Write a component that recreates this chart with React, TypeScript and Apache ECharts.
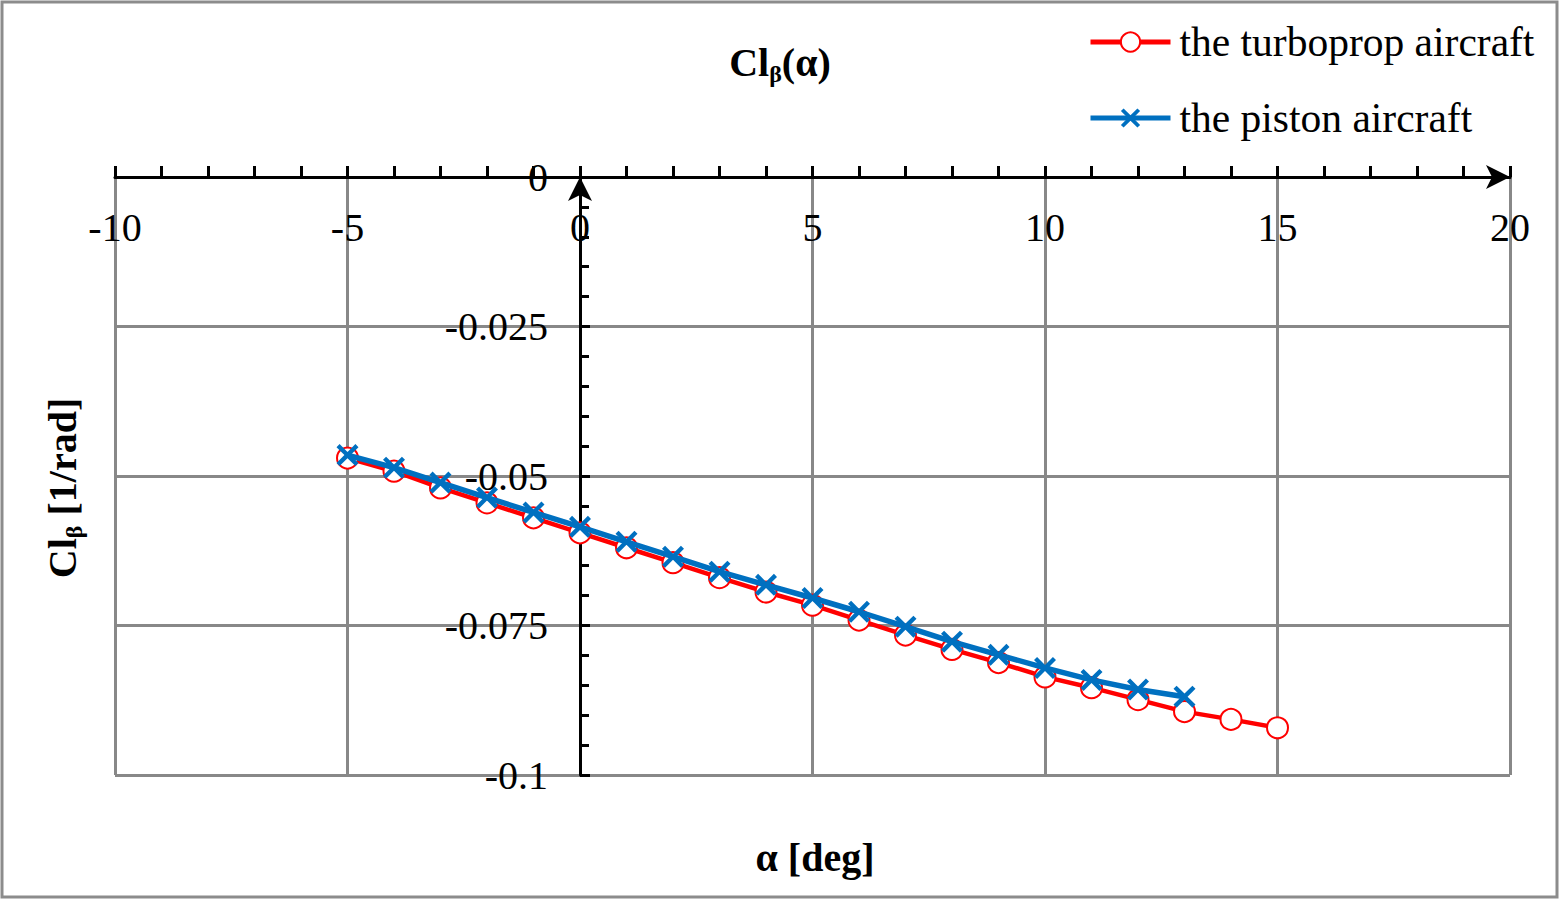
import React, { useEffect, useRef } from "react";
import * as echarts from "echarts";

const alphaTurboprop = [-5, -4, -3, -2, -1, 0, 1, 2, 3, 4, 5, 6, 7, 8, 9, 10, 11, 12, 13, 14, 15];
const clbTurboprop = [
  -0.047, -0.0492, -0.052, -0.0545, -0.057, -0.0595, -0.062, -0.0645, -0.067, -0.0694, -0.0716,
  -0.0741, -0.0766, -0.079, -0.0812, -0.0836, -0.0854, -0.0874, -0.0894, -0.0907, -0.0921,
];
const alphaPiston = [-5, -4, -3, -2, -1, 0, 1, 2, 3, 4, 5, 6, 7, 8, 9, 10, 11, 12, 13];
const clbPiston = [
  -0.0465, -0.0486, -0.0511, -0.0536, -0.0561, -0.0585, -0.061, -0.0635, -0.066, -0.0682, -0.0704,
  -0.0727, -0.0752, -0.0777, -0.0799, -0.0821, -0.0841, -0.0857, -0.0869,
];
const seriesNames = ["the turboprop aircraft", "the piston aircraft"];
const titleText = "{a|Cl}{b|β}{a|(α)}";
const yNameText = "{a|Cl}{b|β}{a| [1/rad]}";
const xNameText = "α [deg]";

const FONT = "'Liberation Serif', 'Times New Roman', serif";
const X_MARK = "path://M1.4,0 L5,3.6 L8.6,0 L10,1.4 L6.4,5 L10,8.6 L8.6,10 L5,6.4 L1.4,10 L0,8.6 L3.6,5 L0,1.4 Z";

const richStyle = {
  a: { fontSize: 40, fontWeight: "bold", fontFamily: FONT, lineHeight: 48, verticalAlign: "middle", fill: "#000" },
  b: { fontSize: 24, fontWeight: "bold", fontFamily: FONT, lineHeight: 24, verticalAlign: "bottom", fill: "#000" },
};

export default function App() {
  const ref = useRef<HTMLDivElement>(null);
  useEffect(() => {
    document.body.style.margin = "0";
    if (!ref.current) return;
    const chart = echarts.init(ref.current, null, { renderer: "svg" });
    const red = "#FF0000";
    const blue = "#0070C0";
    const gridLeft = 115;
    const gridRight = 50;
    const gridWidth = 1560 - gridLeft - gridRight;
    const xMin = -10;
    const xMax = 20;
    // y axis sits at alpha = 0
    const yAxisOffset = -(gridWidth * (0 - xMin)) / (xMax - xMin);
    chart.setOption({
      animation: false,
      backgroundColor: "#ffffff",
      grid: { left: gridLeft, right: gridRight, top: 177, bottom: 125, containLabel: false, outerBoundsMode: "none" },
      legend: {
        orient: "vertical",
        left: 1083,
        top: 15,
        itemWidth: 80,
        itemHeight: 24,
        itemGap: 32,
        data: seriesNames,
        lineStyle: { width: 5 },
        textStyle: { fontFamily: FONT, fontSize: 41.5, color: "#000", lineHeight: 44, padding: [0, 0, 0, 4] },
      },
      xAxis: {
        type: "value",
        position: "top",
        min: xMin,
        max: xMax,
        interval: 5,
        axisLine: {
          onZero: false,
          lineStyle: { color: "#000", width: 3 },
          symbol: ["none", "arrow"],
          symbolSize: [18, 24],
          symbolOffset: [0, 0],
        },
        axisTick: { show: true, inside: false, length: 11, lineStyle: { color: "#000", width: 3 } },
        minorTick: { show: true, splitNumber: 5, length: 11, lineStyle: { color: "#000", width: 3 } },
        axisLabel: { inside: true, fontFamily: FONT, fontSize: 40, color: "#000", margin: 30 },
        splitLine: { show: true, lineStyle: { color: "#888888", width: 3 } },
      },
      yAxis: {
        type: "value",
        position: "left",
        offset: yAxisOffset,
        min: -0.1,
        max: 0,
        interval: 0.025,
        axisLine: {
          onZero: false,
          lineStyle: { color: "#000", width: 3 },
          symbol: ["none", "arrow"],
          symbolSize: [18, 24],
          symbolOffset: [0, 0],
        },
        axisTick: { show: true, inside: true, length: 10, lineStyle: { color: "#000", width: 3 } },
        minorTick: { show: true, splitNumber: 5, length: 9, lineStyle: { color: "#000", width: 3 } },
        axisLabel: { fontFamily: FONT, fontSize: 40, color: "#000", margin: 32 },
        splitLine: { show: true, lineStyle: { color: "#888888", width: 3 } },
      },
      series: [
        {
          name: seriesNames[0],
          type: "line",
          data: alphaTurboprop.map((a, i) => [a, clbTurboprop[i]]),
          symbol: "emptyCircle",
          symbolSize: 21,
          lineStyle: { color: red, width: 4.5 },
          itemStyle: { color: red, borderColor: red, borderWidth: 3 },
          z: 3,
        },
        {
          name: seriesNames[1],
          type: "line",
          data: alphaPiston.map((a, i) => [a, clbPiston[i]]),
          symbol: X_MARK,
          symbolSize: 22,
          lineStyle: { color: blue, width: 5.5 },
          itemStyle: { color: blue },
          z: 4,
        },
      ],
      graphic: [
        {
          type: "rect",
          shape: { x: 2, y: 2, width: 1555, height: 895 },
          style: { fill: "none", stroke: "#8c8c8c", lineWidth: 3 },
          silent: true,
          z: -10,
        },
        {
          type: "text",
          x: 780,
          y: 62,
          style: { text: titleText, rich: richStyle, align: "center", verticalAlign: "middle" },
        },
        {
          type: "text",
          x: 62,
          y: 488,
          rotation: Math.PI / 2,
          style: { text: yNameText, rich: richStyle, align: "center", verticalAlign: "middle" },
        },
        {
          type: "text",
          x: 815,
          y: 857,
          style: {
            text: xNameText,
            fontFamily: FONT,
            fontSize: 40,
            fontWeight: "bold",
            fill: "#000",
            align: "center",
            verticalAlign: "middle",
          },
        },
      ],
    });
    return () => chart.dispose();
  }, []);
  return <div ref={ref} style={{ width: 1560, height: 900 }} />;
}
